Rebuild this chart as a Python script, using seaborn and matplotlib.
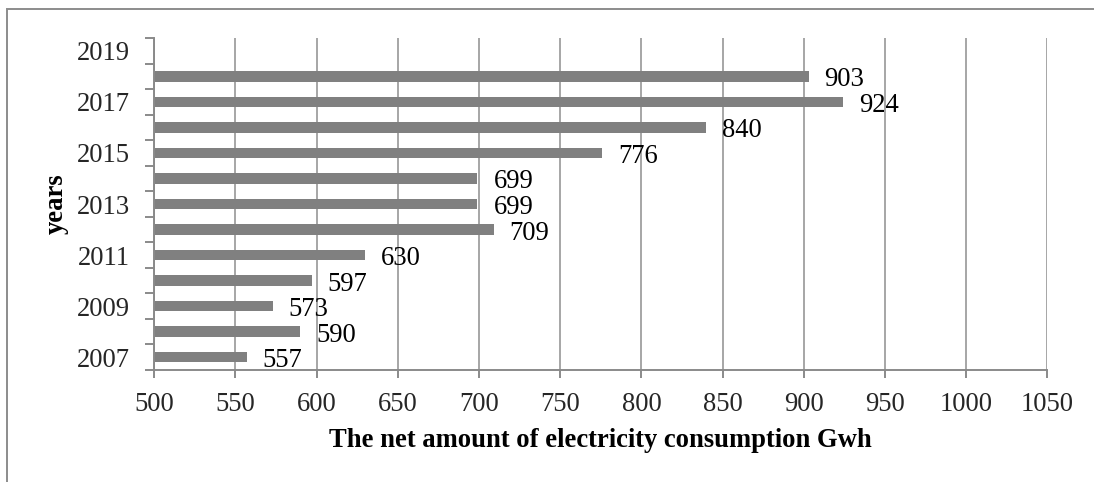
import matplotlib
matplotlib.use("Agg")
import matplotlib.pyplot as plt
from matplotlib.patches import Rectangle
import seaborn as sns
import pandas as pd
import numpy as np

# Net electricity consumption per year (GWh); 2019 has no reading yet
years = [str(y) for y in range(2007, 2020)]
consumption = [557, 590, 573, 597, 630, 709, 699, 699, 776, 840, 924, 903, np.nan]
x_ticks = [500, 550, 600, 650, 700, 750, 800, 850, 900, 950, 1000, 1050]
labelled_years = ["2019", "2017", "2015", "2013", "2011", "2009", "2007"]

sns.set_theme(style="white")
plt.rcParams["font.family"] = ["Liberation Serif", "DejaVu Serif"]

FS = 19.2
BAR = "#808080"
GRID = "#a6a6a6"
AXIS = "#8a8a8a"

df = pd.DataFrame({"year": years, "gwh": consumption}).dropna()
order = years[::-1]  # newest at the top

fig = plt.figure(figsize=(10.94, 4.82), dpi=100)
ax = fig.add_axes([154.3 / 1094, 1 - 370 / 482, (1047.3 - 154.3) / 1094, (370 - 38) / 482])

sns.barplot(data=df, x="gwh", y="year", order=order, orient="h",
            color=BAR, saturation=1, width=0.41, ax=ax, errorbar=None)
for bar in ax.patches:
    bar.set_edgecolor("none")

ax.set_xlim(500, 1050)
ax.set_ylim(12.5, -0.5)

# value labels to the right of each bar
for bar in ax.patches:
    w = bar.get_width()
    yc = bar.get_y() + bar.get_height() / 2
    ax.annotate(f"{w:g}", xy=(w, yc), xytext=(11.5, -2.5), textcoords="offset points",
                ha="left", va="center", fontsize=FS, color="black",
                annotation_clip=False)

# x axis
ax.set_xticks(x_ticks)
ax.set_xticklabels([str(v) for v in x_ticks])
ax.xaxis.grid(True, color=GRID, linewidth=1.4)
ax.yaxis.grid(False)
ax.set_axisbelow(True)
ax.tick_params(axis="x", which="major", direction="out", length=5.5, width=1.4,
               color=AXIS, labelsize=FS, pad=10, bottom=True)

# y axis: labels on every other year, tick marks between categories
pos = [order.index(y) for y in labelled_years]
ax.set_yticks(pos)
ax.set_yticklabels(labelled_years)
for t in ax.get_yticklabels():
    t.set_va("center_baseline")
ax.set_yticks(np.arange(-0.5, 13.0, 1.0), minor=True)
ax.tick_params(axis="y", which="major", length=0, labelsize=FS, pad=17.5, left=True)
ax.tick_params(axis="y", which="minor", direction="out", length=6.5, width=1.4,
               color=AXIS, left=True)

for side in ("top", "right"):
    ax.spines[side].set_visible(False)
for side in ("left", "bottom"):
    ax.spines[side].set_color(AXIS)
    ax.spines[side].set_linewidth(1.4)

ax.set_xlabel("The net amount of electricity consumption Gwh", fontsize=FS,
              fontweight="bold", color="black")
ax.xaxis.set_label_coords(0.5, -0.211)
ax.xaxis.label.set_va("center")
ax.set_ylabel("years", fontsize=FS, fontweight="bold", color="black")
ax.yaxis.set_label_coords(-0.110, 0.5)
ax.yaxis.label.set_va("center")

# chart-area border
fig.patches.append(Rectangle((7 / 1094, -0.2), 1.2, 1.2 - 9 / 482,
                             transform=fig.transFigure, fill=False,
                             edgecolor="#8c8c8c", linewidth=1.4))

fig.savefig("out.png", dpi=100)
